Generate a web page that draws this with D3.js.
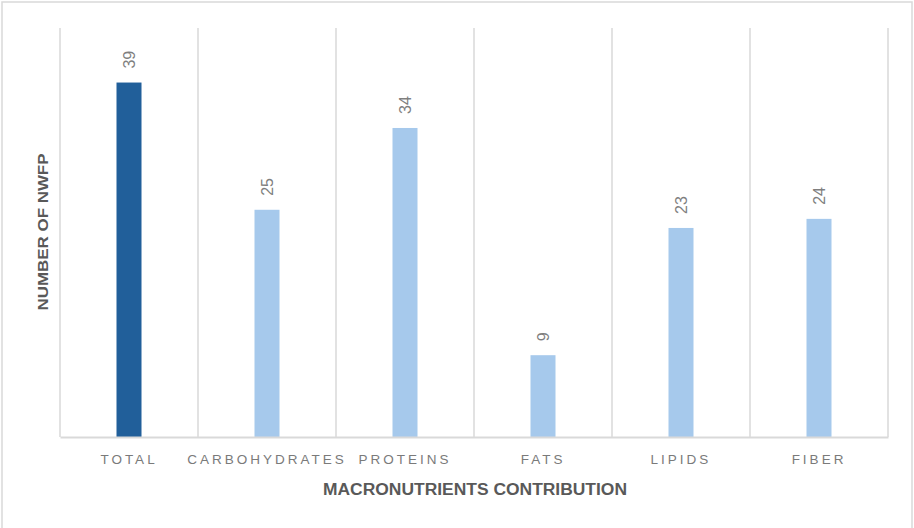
<!DOCTYPE html>
<html><head><meta charset="utf-8">
<script src="https://cdn.jsdelivr.net/npm/d3@7"></script>
<style>body{margin:0;background:#fff}svg{display:block}</style>
</head><body><div id="chart"></div>
<script>
const categories = ["TOTAL","CARBOHYDRATES","PROTEINS","FATS","LIPIDS","FIBER"];
const values = [39,25,34,9,23,24];
const highlight = ["TOTAL"];
const xTitle = "MACRONUTRIENTS CONTRIBUTION";
const yTitle = "NUMBER OF NWFP";

const W = 914, H = 528;
const m = {left:60, right:26, top:28, bottom:91};
const svg = d3.select("#chart").append("svg").attr("width",W).attr("height",H);
svg.append("rect").attr("x",2).attr("y",2).attr("width",910).attr("height",530)
  .attr("fill","#fff").attr("stroke","#d9d9d9").attr("stroke-width",1.5);

const x = d3.scaleBand().domain(categories).range([m.left, W-m.right]).paddingInner(0).paddingOuter(0);
const y = d3.scaleLinear().domain([0,45]).range([H-m.bottom, m.top]);

// vertical gridlines at category boundaries
const bounds = categories.map(c=>x(c)).concat([x(categories[categories.length-1])+x.bandwidth()]);
svg.append("g").selectAll("line").data(bounds).join("line")
  .attr("x1",d=>d).attr("x2",d=>d).attr("y1",y(45)).attr("y2",y(0))
  .attr("stroke","#d9d9d9").attr("stroke-width",1.5);

const barW = 25;
svg.append("g").selectAll("rect").data(categories).join("rect")
  .attr("x",c=>x(c)+x.bandwidth()/2-barW/2)
  .attr("y",(c,i)=>y(values[i]))
  .attr("width",barW)
  .attr("height",(c,i)=>y(0)-y(values[i]))
  .attr("fill",c=>highlight.includes(c)?"#215f9a":"#a6c9ec");

// axis baseline
const xAxis = d3.axisBottom(x).tickSize(0).tickPadding(0);
const gx = svg.append("g").attr("transform",`translate(0,${y(0)})`).call(xAxis);
gx.select(".domain").attr("stroke","#d9d9d9").attr("stroke-width",2);
gx.selectAll(".tick text")
  .attr("y",27).attr("dy",0)
  .attr("fill","#7a7a7a")
  .style("font-family","'Liberation Sans', Arial, sans-serif")
  .style("font-size","13.5px")
  .style("letter-spacing","3px");

// value labels
svg.append("g").selectAll("text").data(categories).join("text")
  .attr("transform",(c,i)=>`translate(${x(c)+x.bandwidth()/2+6},${y(values[i])-14}) rotate(-90)`)
  .attr("text-anchor","start")
  .attr("fill","#7f7f7f")
  .style("font-family","'Liberation Sans', Arial, sans-serif")
  .style("font-size","16px")
  .text((c,i)=>values[i]);

// titles
svg.append("text").attr("x",475).attr("y",495).attr("text-anchor","middle")
  .attr("fill","#595959").style("font-family","'Liberation Sans', Arial, sans-serif")
  .style("font-size","16px").style("font-weight","bold")
  .attr("textLength",304).attr("lengthAdjust","spacingAndGlyphs")
  .text(xTitle);
svg.append("text").attr("transform","translate(48,232) rotate(-90)").attr("text-anchor","middle")
  .attr("fill","#595959").style("font-family","'Liberation Sans', Arial, sans-serif")
  .style("font-size","14px").style("font-weight","bold")
  .attr("textLength",157).attr("lengthAdjust","spacingAndGlyphs")
  .text(yTitle);
</script></body></html>
